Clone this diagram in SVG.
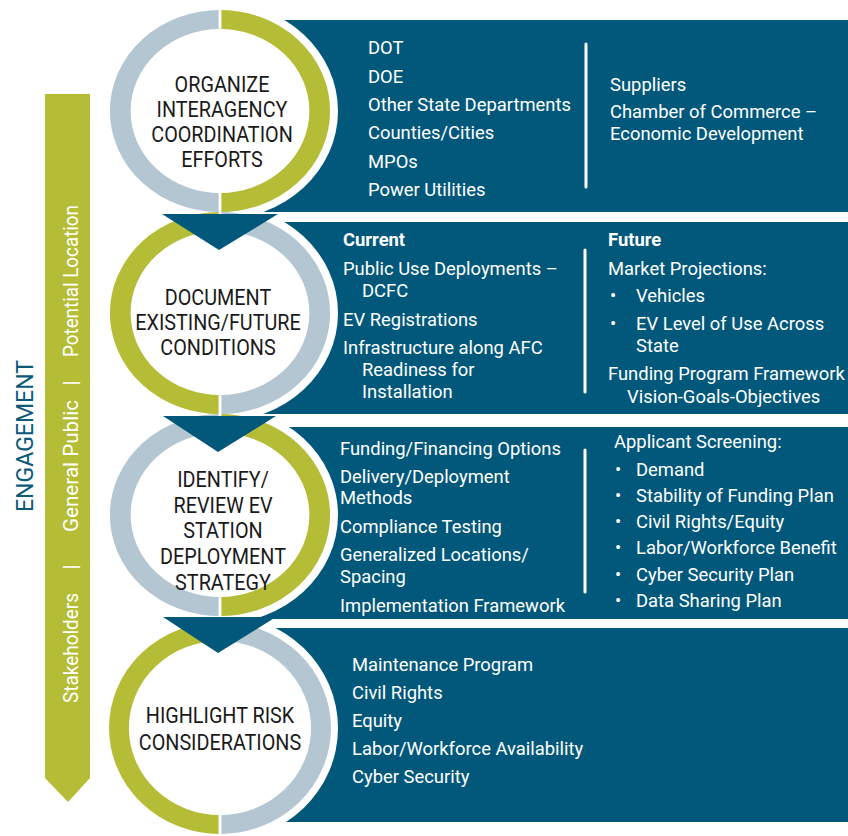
<svg xmlns="http://www.w3.org/2000/svg" width="848" height="836" viewBox="0 0 848 836">
  <style>
    .panel { fill: #02587a; }
    .halo { fill: #ffffff; }
    .ring { fill: none; stroke-width: 19; }
    .green { stroke: #b5bd37; }
    .grey { stroke: #b3c6d1; }
    .gap { fill: #ffffff; }
    .tri { fill: #02587a; }
    .divider { stroke: #ffffff; stroke-width: 3; stroke-linecap: round; }
    .title { font-family: Roboto, "Liberation Sans", sans-serif; font-size: 22px; fill: #1a1a1a; text-anchor: middle; }
    .body { font-family: Roboto, "Liberation Sans", sans-serif; font-size: 18.4px; fill: #ffffff; }
    .bold { font-weight: bold; }
    .band { font-family: Roboto, "Liberation Sans", sans-serif; font-size: 20px; fill: #ffffff; }
    .eng { font-family: Roboto, "Liberation Sans", sans-serif; font-size: 23px; fill: #0c5a78; }
  </style>

  <rect width="848" height="836" fill="#ffffff"/>

  <!-- content panels -->
  <g id="panels">
    <rect class="panel" x="220" y="20" width="628" height="192"/>
    <rect class="panel" x="220" y="222" width="628" height="192"/>
    <rect class="panel" x="220" y="427" width="628" height="192"/>
    <rect class="panel" x="220" y="628" width="628" height="194"/>
  </g>

  <!-- white halos separating rings from panels -->
  <g id="halos">
    <ellipse class="halo" cx="220" cy="111" rx="118" ry="108.5"/>
    <ellipse class="halo" cx="220" cy="313" rx="118" ry="108.5"/>
    <ellipse class="halo" cx="220" cy="515" rx="118" ry="108.5"/>
    <ellipse class="halo" cx="220" cy="728" rx="118" ry="113.5"/>
  </g>

  <!-- engagement band -->
  <g id="engagement">
    <polygon points="45,94 90,94 90,778 68,802 45,778" fill="#b5bd37"/>
    <g transform="rotate(-90)">
      <text class="band" x="-703" y="78" textLength="110" lengthAdjust="spacingAndGlyphs">Stakeholders</text>
      <text class="band" x="-567" y="78" text-anchor="middle">|</text>
      <text class="band" x="-532" y="78" textLength="132" lengthAdjust="spacingAndGlyphs">General Public</text>
      <text class="band" x="-383" y="78" text-anchor="middle">|</text>
      <text class="band" x="-357" y="78" textLength="152" lengthAdjust="spacingAndGlyphs">Potential Location</text>
      <text class="eng" x="-512" y="33" textLength="152">ENGAGEMENT</text>
    </g>
  </g>

  <!-- step 1 -->
  <g id="step1">
    <g transform="translate(220,111) scale(1.09,1)">
      <path class="ring grey" d="M0,-91.5 A91.5,91.5 0 0 0 0,91.5"/>
      <path class="ring green" d="M0,-91.5 A91.5,91.5 0 0 1 0,91.5"/>
      <rect class="gap" x="-1.3" y="-102" width="2.6" height="22"/>
      <rect class="gap" x="-1.3" y="80" width="2.6" height="22"/>
    </g>
    <g transform="translate(222,0) scale(0.9,1)">
      <text class="title" x="0" y="92">ORGANIZE</text>
      <text class="title" x="0" y="117">INTERAGENCY</text>
      <text class="title" x="0" y="142">COORDINATION</text>
      <text class="title" x="0" y="167">EFFORTS</text>
    </g>
    <g class="body">
      <text x="368" y="54">DOT</text>
      <text x="368" y="83">DOE</text>
      <text x="368" y="111">Other State Departments</text>
      <text x="368" y="139">Counties/Cities</text>
      <text x="368" y="168">MPOs</text>
      <text x="368" y="196">Power Utilities</text>
      <text x="610" y="91">Suppliers</text>
      <text x="610" y="118">Chamber of Commerce –</text>
      <text x="610" y="140">Economic Development</text>
    </g>
    <line class="divider" x1="586" y1="44" x2="586" y2="187"/>
  </g>

  <!-- step 2 -->
  <g id="step2">
    <g transform="translate(220,313) scale(1.09,1)">
      <path class="ring green" d="M0,-91.5 A91.5,91.5 0 0 0 0,91.5"/>
      <path class="ring grey" d="M0,-91.5 A91.5,91.5 0 0 1 0,91.5"/>
      <rect class="gap" x="-1.3" y="-102" width="2.6" height="22"/>
      <rect class="gap" x="-1.3" y="80" width="2.6" height="22"/>
    </g>
    <g transform="translate(218,0) scale(0.9,1)">
      <text class="title" x="0" y="305">DOCUMENT</text>
      <text class="title" x="0" y="330">EXISTING/FUTURE</text>
      <text class="title" x="0" y="355">CONDITIONS</text>
    </g>
    <g class="body">
      <text class="bold" x="343" y="246">Current</text>
      <text x="343" y="275">Public Use Deployments –</text>
      <text x="362" y="297">DCFC</text>
      <text x="343" y="326">EV Registrations</text>
      <text x="343" y="354">Infrastructure along AFC</text>
      <text x="362" y="376">Readiness for</text>
      <text x="362" y="398">Installation</text>
      <text class="bold" x="608" y="246">Future</text>
      <text x="608" y="275">Market Projections:</text>
      <text x="610" y="302">•</text>
      <text x="636" y="302">Vehicles</text>
      <text x="610" y="330">•</text>
      <text x="636" y="330">EV Level of Use Across</text>
      <text x="636" y="352">State</text>
      <text x="608" y="380">Funding Program Framework</text>
      <text x="627" y="403">Vision-Goals-Objectives</text>
    </g>
    <line class="divider" x1="585" y1="250" x2="585" y2="392"/>
  </g>

  <!-- step 3 -->
  <g id="step3">
    <g transform="translate(220,515) scale(1.09,1)">
      <path class="ring grey" d="M0,-91.5 A91.5,91.5 0 0 0 0,91.5"/>
      <path class="ring green" d="M0,-91.5 A91.5,91.5 0 0 1 0,91.5"/>
      <rect class="gap" x="-1.3" y="-102" width="2.6" height="22"/>
      <rect class="gap" x="-1.3" y="80" width="2.6" height="22"/>
    </g>
    <g transform="translate(223,0) scale(0.9,1)">
      <text class="title" x="0" y="487">IDENTIFY/</text>
      <text class="title" x="0" y="513">REVIEW EV</text>
      <text class="title" x="0" y="538">STATION</text>
      <text class="title" x="0" y="564">DEPLOYMENT</text>
      <text class="title" x="0" y="590">STRATEGY</text>
    </g>
    <g class="body">
      <text x="340" y="455">Funding/Financing Options</text>
      <text x="340" y="483">Delivery/Deployment</text>
      <text x="340" y="504">Methods</text>
      <text x="340" y="533">Compliance Testing</text>
      <text x="340" y="561">Generalized Locations/</text>
      <text x="340" y="583">Spacing</text>
      <text x="340" y="612">Implementation Framework</text>
      <text x="614" y="448">Applicant Screening:</text>
      <text x="615" y="476">•</text><text x="636" y="476">Demand</text>
      <text x="615" y="502">•</text><text x="636" y="502">Stability of Funding Plan</text>
      <text x="615" y="528">•</text><text x="636" y="528">Civil Rights/Equity</text>
      <text x="615" y="554">•</text><text x="636" y="554">Labor/Workforce Benefit</text>
      <text x="615" y="581">•</text><text x="636" y="581">Cyber Security Plan</text>
      <text x="615" y="607">•</text><text x="636" y="607">Data Sharing Plan</text>
    </g>
    <line class="divider" x1="585" y1="450" x2="585" y2="592"/>
  </g>

  <!-- step 4 -->
  <g id="step4">
    <g transform="translate(220,728) scale(1.047,1)">
      <path class="ring green" d="M0,-96.5 A96.5,96.5 0 0 0 0,96.5"/>
      <path class="ring grey" d="M0,-96.5 A96.5,96.5 0 0 1 0,96.5"/>
      <rect class="gap" x="-1.4" y="-107" width="2.8" height="22"/>
      <rect class="gap" x="-1.4" y="85" width="2.8" height="22"/>
    </g>
    <g transform="translate(220,0) scale(0.9,1)">
      <text class="title" x="0" y="723">HIGHLIGHT RISK</text>
      <text class="title" x="0" y="750">CONSIDERATIONS</text>
    </g>
    <g class="body">
      <text x="352" y="671">Maintenance Program</text>
      <text x="352" y="699">Civil Rights</text>
      <text x="352" y="727">Equity</text>
      <text x="352" y="755">Labor/Workforce Availability</text>
      <text x="352" y="783">Cyber Security</text>
    </g>
  </g>

  <!-- connectors between steps -->
  <g id="connectors">
    <polygon class="tri" points="162,214 278,214 219,250"/>
    <polygon class="tri" points="163,416 276,416 218,452"/>
    <polygon class="tri" points="163,617 276,617 218,653"/>
  </g>
</svg>
